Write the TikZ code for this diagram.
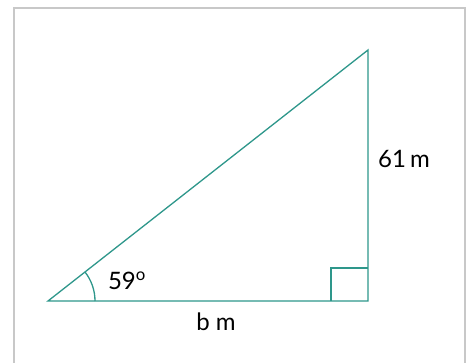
\documentclass[tikz,border=0pt]{standalone}
\usepackage{fontspec}
\setmainfont{Lato}
\usetikzlibrary{calc}
\definecolor{teal1}{HTML}{2E978B}
\definecolor{frame}{HTML}{C8C8C8}
\begin{document}
\begin{tikzpicture}[x=1pt,y=-1pt,
  side/.style={draw=teal1,line width=1.3pt},
  lbl/.style={font=\fontsize{24}{28}\selectfont,text=black,inner sep=0pt}]
\useasboundingbox (0,0) rectangle (471,363);
\fill[white] (0,0) rectangle (471,363);
\draw[frame,line width=1.5pt] (14,380) -- (14,8) -- (465,8) -- (465,380);
\coordinate (A) at (48,301);
\coordinate (C) at (368,301);
\coordinate (B) at (368,50);
\draw[side] (A) -- (C) -- (B) -- cycle;
\draw[side] (331,301) -- (331,268) -- (368,268);
\draw[side] ($(A)+(47,0)$) arc[start angle=0,end angle=-38.1,radius=47];
\node[lbl] (ang) at (127,281) {59\textsuperscript{o}};
\node[lbl] (h) at (404,159) {61\,m};
\node[lbl] (b) at (216,322) {b m};
\end{tikzpicture}
\end{document}
